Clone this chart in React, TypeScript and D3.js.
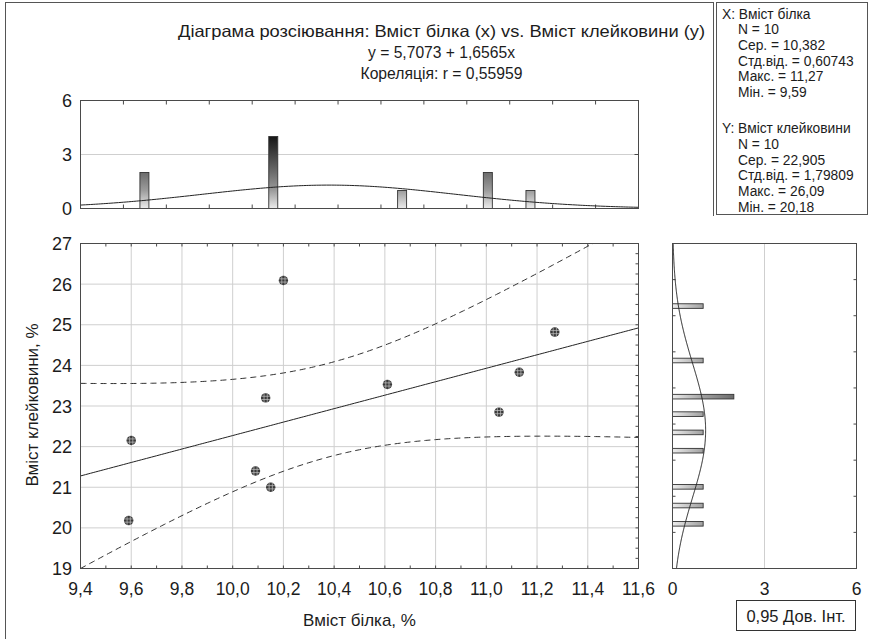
import React from 'react';
import * as d3 from 'd3';

// scatter data (protein %, gluten %)
const proteinX = [9.59, 9.6, 10.09, 10.13, 10.15, 10.2, 10.61, 11.05, 11.13, 11.27];
const glutenY = [20.18, 22.15, 21.4, 23.2, 21.0, 26.09, 23.53, 22.85, 23.83, 24.82];

const xTicks = [9.4, 9.6, 9.8, 10.0, 10.2, 10.4, 10.6, 10.8, 11.0, 11.2, 11.4, 11.6];
const yTicks = [19, 20, 21, 22, 23, 24, 25, 26, 27];
const countTicks = [0, 3, 6];

// marginal histograms
const histXCenters = [9.652, 10.16, 10.668, 11.006, 11.174];
const histXCounts = [2, 4, 1, 2, 1];
const histYCenters = [25.46, 24.12, 23.23, 22.8, 22.35, 21.9, 21.01, 20.55, 20.1];
const histYCounts = [1, 1, 2, 1, 1, 1, 1, 1, 1];

// fit
const intercept = 5.7073;
const slope = 1.6565;
const tCrit = 2.306;
const xNormal = { mean: 10.38, sd: 0.5, peak: 1.3 };
const yNormal = { mean: 22.4, sd: 1.65, peak: 1.08 };

const titleLines = [
  'Діаграма розсіювання: Вміст білка (х) vs. Вміст клейковини (у)',
  'y = 5,7073 + 1,6565x',
  'Кореляція: r =  0,55959',
];
const statsX = ['X:  Вміст білка', 'N = 10', 'Сер. = 10,382', 'Стд.від. = 0,60743', 'Макс. = 11,27', 'Мін. = 9,59'];
const statsY = ['Y:  Вміст клейковини', 'N = 10', 'Сер. = 22,905', 'Стд.від. = 1,79809', 'Макс. = 26,09', 'Мін. = 20,18'];

const font = 'Liberation Sans, Arial, sans-serif';
const fmt = (v: number) => v.toFixed(1).replace('.', ',');

export default function App() {
  const x = d3.scaleLinear().domain([9.4, 11.6]).range([80.5, 638.5]);
  const y = d3.scaleLinear().domain([19, 27]).range([568.5, 243.5]);
  const hy = d3.scaleLinear().domain([0, 6]).range([208.5, 100.5]);
  const hx = d3.scaleLinear().domain([0, 6]).range([672.5, 856.5]);

  // confidence band of the regression line
  const n = proteinX.length;
  const xbar = d3.mean(proteinX) as number;
  const sxx = d3.sum(proteinX, v => (v - xbar) ** 2);
  const sse = d3.sum(proteinX, (v, i) => (glutenY[i] - (intercept + slope * v)) ** 2);
  const s = Math.sqrt(sse / (n - 2));
  const grid = d3.range(9.4, 11.6001, 0.01);
  const band = (sign: number) =>
    grid.map(v => [v, intercept + slope * v + sign * tCrit * s * Math.sqrt(1 / n + (v - xbar) ** 2 / sxx)]);
  const line = d3.line<number[]>().x(d => x(d[0])).y(d => y(d[1]));

  const normal = (p: { mean: number; sd: number; peak: number }, v: number) =>
    p.peak * Math.exp(-((v - p.mean) ** 2) / (2 * p.sd * p.sd));
  const topCurve = d3.line<number>().x(v => x(v)).y(v => hy(normal(xNormal, v)));
  const sideGrid = d3.range(19, 27.0001, 0.02);
  const sideCurve = d3.line<number>().x(v => hx(normal(yNormal, v))).y(v => y(v));

  const xBinEdges = d3.range(1, 13).map(k => 9.4 + (k * 2.2) / 13);
  const yBinEdges = d3.range(1, 9).map(k => 19 + (k * 8) / 9);
  const xMinor = d3.range(1, 22).map(k => 9.4 + k * 0.1);
  const yMinor = d3.range(1, 32).map(k => 19 + k * 0.25);

  const frame = '#4a4a4a';
  const gridC = '#cfcfcf';
  const ink = '#1c1c1c';
  const r = 4.7;

  return (
    <svg width={869} height={639} style={{ position: 'absolute', left: 0, top: 0, background: '#fff' }} fontFamily={font}>
      <defs>
        <clipPath id="plotClip">
          <rect x={x(9.4)} y={y(27)} width={x(11.6) - x(9.4)} height={y(19) - y(27)} />
        </clipPath>
        <linearGradient id="gradV" gradientUnits="userSpaceOnUse" x1={0} y1={hy(0)} x2={0} y2={hy(4)}>
          <stop offset="0" stopColor="#ececec" />
          <stop offset="0.25" stopColor="#9c9c9c" />
          <stop offset="0.5" stopColor="#6c6c6c" />
          <stop offset="1" stopColor="#161616" />
        </linearGradient>
        <linearGradient id="gradH" gradientUnits="userSpaceOnUse" x1={hx(0)} y1={0} x2={hx(4)} y2={0}>
          <stop offset="0" stopColor="#ececec" />
          <stop offset="0.25" stopColor="#a0a0a0" />
          <stop offset="0.5" stopColor="#6c6c6c" />
          <stop offset="1" stopColor="#161616" />
        </linearGradient>
      </defs>

      {/* outer frame */}
      <line x1={5.5} y1={2} x2={5.5} y2={639} stroke="#555" />
      <line x1={5.5} y1={2.5} x2={713.5} y2={2.5} stroke="#555" />
      <line x1={713.5} y1={2} x2={713.5} y2={216} stroke="#555" />

      {/* stats box */}
      <rect x={716.5} y={2.5} width={151} height={212} fill="#fff" stroke="#555" />
      {statsX.map((t, i) => (
        <text key={'sx' + i} x={i === 0 ? 722 : 738} y={18.5 + i * 15.7} fontSize={13.8} fill={ink}>{t}</text>
      ))}
      {statsY.map((t, i) => (
        <text key={'sy' + i} x={i === 0 ? 722 : 738} y={133 + i * 15.8} fontSize={13.8} fill={ink}>{t}</text>
      ))}

      {/* title */}
      {titleLines.map((t, i) => (
        <text key={'t' + i} x={441.5} y={37 + i * 21} textAnchor="middle" fontSize={16.5} fill={ink}
          textLength={[527, 147, 162][i]} lengthAdjust="spacingAndGlyphs">{t}</text>
      ))}

      {/* top histogram */}
      <line x1={x(9.4)} x2={x(11.6)} y1={hy(3)} y2={hy(3)} stroke={gridC} />
      {xBinEdges.map((v, i) => (
        <g key={'xb' + i}>
          <line x1={x(v)} x2={x(v)} y1={hy(6)} y2={hy(6) + 4} stroke={frame} />
          <line x1={x(v)} x2={x(v)} y1={hy(0)} y2={hy(0) - 4} stroke={frame} />
        </g>
      ))}
      <line x1={x(11.6)} x2={x(11.6) - 4} y1={hy(3)} y2={hy(3)} stroke={frame} />
      {histXCenters.map((c, i) => (
        <rect key={'hx' + i} x={x(c) - 4.5} y={hy(histXCounts[i])} width={9} height={hy(0) - hy(histXCounts[i])}
          fill="url(#gradV)" stroke="#333" strokeWidth={0.9} />
      ))}
      <path d={topCurve(d3.range(9.4, 11.6001, 0.01)) as string} fill="none" stroke="#222" strokeWidth={1} />
      <rect x={x(9.4)} y={hy(6)} width={x(11.6) - x(9.4)} height={hy(0) - hy(6)} fill="none" stroke={frame} />
      {countTicks.map(t => (
        <text key={'ct' + t} x={72} y={hy(t) + 6.5} textAnchor="end" fontSize={18} fill={ink}>{t}</text>
      ))}

      {/* main scatter */}
      {xTicks.slice(1, -1).map(t => (
        <line key={'gx' + t} x1={x(t)} x2={x(t)} y1={y(19)} y2={y(27)} stroke={gridC} />
      ))}
      {yTicks.slice(1, -1).map(t => (
        <line key={'gy' + t} x1={x(9.4)} x2={x(11.6)} y1={y(t)} y2={y(t)} stroke={gridC} />
      ))}
      {xMinor.map((v, i) => (
        <g key={'mx' + i}>
          <line x1={x(v)} x2={x(v)} y1={y(27)} y2={y(27) + 3} stroke={frame} />
          <line x1={x(v)} x2={x(v)} y1={y(19)} y2={y(19) - 3} stroke={frame} />
        </g>
      ))}
      {yMinor.map((v, i) => (
        <line key={'my' + i} x1={x(11.6)} x2={x(11.6) - 3} y1={y(v)} y2={y(v)} stroke={frame} />
      ))}
      <g clipPath="url(#plotClip)">
        <path d={line(band(1)) as string} fill="none" stroke="#333" strokeDasharray="6,4" />
        <path d={line(band(-1)) as string} fill="none" stroke="#333" strokeDasharray="6,4" />
        <path d={line(grid.map(v => [v, intercept + slope * v])) as string} fill="none" stroke="#222" />
      </g>
      {proteinX.map((v, i) => {
        const cx = x(v);
        const cy = y(glutenY[i]);
        return (
          <g key={'p' + i} transform={`translate(${cx},${cy})`}>
            <circle r={r} fill="#3a3a3a" />
            {[-1.6, 1.6].map(o => {
              const h = Math.sqrt(r * r - o * o);
              return (
                <g key={o}>
                  <line x1={o} x2={o} y1={-h} y2={h} stroke="#c4c4c4" strokeWidth={0.7} />
                  <line y1={o} y2={o} x1={-h} x2={h} stroke="#c4c4c4" strokeWidth={0.7} />
                </g>
              );
            })}
          </g>
        );
      })}
      <rect x={x(9.4)} y={y(27)} width={x(11.6) - x(9.4)} height={y(19) - y(27)} fill="none" stroke={frame} />
      {yTicks.map(t => (
        <text key={'yt' + t} x={72} y={y(t) + 6.5} textAnchor="end" fontSize={18} fill={ink}>{t}</text>
      ))}
      {xTicks.map(t => (
        <text key={'xt' + t} x={x(t)} y={595} textAnchor="middle" fontSize={17.5} fill={ink}>{fmt(t)}</text>
      ))}
      <text x={(x(9.4) + x(11.6)) / 2} y={626} textAnchor="middle" fontSize={17} fill={ink}>Вміст білка, %</text>
      <text transform={`translate(38,405) rotate(-90)`} textAnchor="middle" fontSize={17} fill={ink}>Вміст клейковини, %</text>

      {/* right histogram */}
      <line x1={hx(3)} x2={hx(3)} y1={y(19)} y2={y(27)} stroke={gridC} />
      {yBinEdges.map((v, i) => (
        <g key={'yb' + i}>
          <line x1={hx(0)} x2={hx(0) + 3} y1={y(v)} y2={y(v)} stroke={frame} />
          <line x1={hx(6)} x2={hx(6) - 3} y1={y(v)} y2={y(v)} stroke={frame} />
        </g>
      ))}
      {histYCenters.map((c, i) => (
        <rect key={'hy' + i} x={hx(0)} y={y(c) - 2.3} width={hx(histYCounts[i]) - hx(0)} height={4.6}
          fill="url(#gradH)" stroke="#333" strokeWidth={0.9} />
      ))}
      <path d={sideCurve(sideGrid) as string} fill="none" stroke="#222" />
      <rect x={hx(0)} y={y(27)} width={hx(6) - hx(0)} height={y(19) - y(27)} fill="none" stroke={frame} />
      {countTicks.map(t => (
        <text key={'ht' + t} x={hx(t)} y={595} textAnchor="middle" fontSize={17.5} fill={ink}>{t}</text>
      ))}

      {/* legend */}
      <rect x={736.5} y={600.5} width={119} height={30} fill="#fff" stroke="#333" />
      <text x={796} y={622} textAnchor="middle" fontSize={16.5} fill={ink}>0,95 Дов. Інт.</text>
    </svg>
  );
}
